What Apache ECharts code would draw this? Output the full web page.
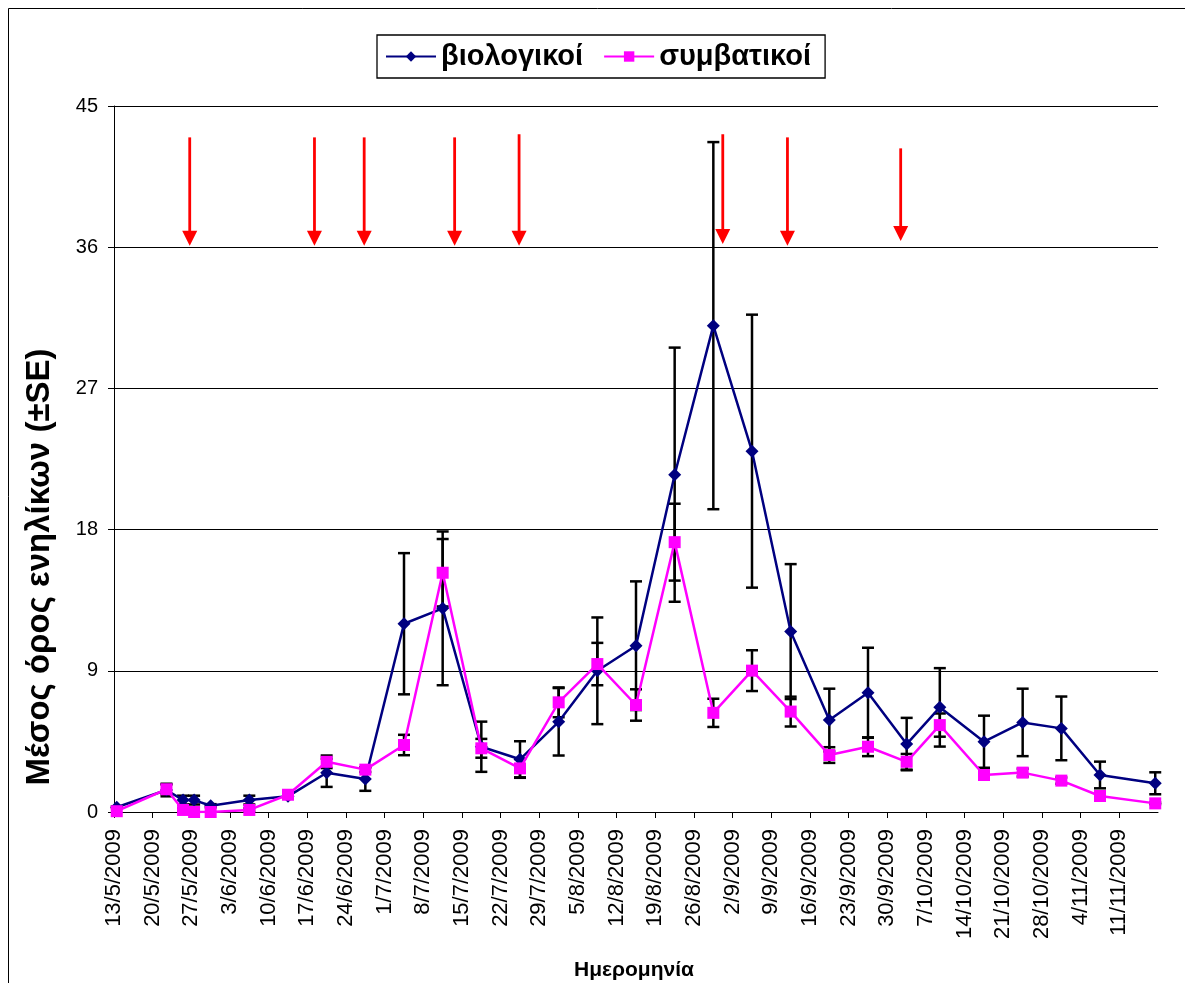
<!DOCTYPE html>
<html>
<head>
<meta charset="utf-8">
<script src="https://cdn.jsdelivr.net/npm/echarts@6/dist/echarts.min.js"></script>
<style>
html,body{margin:0;padding:0;background:#fff;}
#chart{width:1185px;height:983px;}
</style>
</head>
<body>
<div id="chart"></div>
<script>
// ---- data ----
const axisStart = '2009-05-13';
const axisEnd = '2009-11-18';
const sampleDates = ['2009-05-13','2009-05-22','2009-05-25','2009-05-27','2009-05-30','2009-06-06','2009-06-13','2009-06-20','2009-06-27','2009-07-04','2009-07-11','2009-07-18','2009-07-25','2009-08-01','2009-08-08','2009-08-15','2009-08-22','2009-08-29','2009-09-05','2009-09-12','2009-09-19','2009-09-26','2009-10-03','2009-10-09','2009-10-17','2009-10-24','2009-10-31','2009-11-07','2009-11-17'];
const bioMean = [0.3,1.4,0.76,0.76,0.4,0.76,1.0,2.5,2.1,12.0,12.98,4.16,3.36,5.75,9.0,10.6,21.5,31.0,23.0,11.5,5.86,7.6,4.33,6.67,4.48,5.71,5.33,2.36,1.83];
const bioSE = [0.05,0.4,0.28,0.28,0.1,0.28,0.1,0.9,0.75,4.5,4.9,1.6,1.15,2.15,3.4,4.1,8.1,11.7,8.7,4.3,2.0,2.87,1.67,2.5,1.66,2.15,2.03,0.85,0.7];
const convMean = [0.05,1.45,0.13,0,0,0.13,1.1,3.2,2.7,4.27,15.25,4.06,2.78,6.99,9.43,6.82,17.2,6.32,9.01,6.4,3.63,4.16,3.2,5.54,2.36,2.51,2.0,1.02,0.55];
const convSE = [0,0.3,0.1,0,0,0.1,0.1,0.4,0.15,0.65,2.15,0.6,0.6,0.95,1.35,1.0,2.45,0.9,1.3,0.95,0.5,0.6,0.5,0.74,0.3,0.25,0.2,0.1,0.05];
// application arrows (date-time, top value, tip value)
const arrowTimes = ['2009-05-26T17:00','2009-06-18T07:00','2009-06-27T07:00','2009-07-13T16:00','2009-07-25T08:00','2009-08-31T05:00','2009-09-11T22:00','2009-10-02T10:00'];
const arrowTop = [43.0,43.0,43.0,43.0,43.2,43.2,43.0,42.3];
const arrowTip = [36.1,36.1,36.1,36.1,36.1,36.2,36.1,36.4];
const seriesNames = ['βιολογικοί','συμβατικοί'];
const yTicks = {min:0, max:45, interval:9};
const xTitle = 'Ημερομηνία';
const yTitle = 'Μέσος όρος ενηλίκων (±SE)';

// ---- helpers ----
const DAY = 86400000;
function toUTC(s){
  const [d,t] = s.split('T');
  const [Y,M,D] = d.split('-').map(Number);
  let h=0, m=0;
  if (t) { [h,m] = t.split(':').map(Number); }
  return Date.UTC(Y, M-1, D, h, m);
}
const t0 = toUTC(axisStart);
const dayOf = s => (toUTC(s) - t0) / DAY;
const xMax = dayOf(axisEnd);
// Excel date axis: points sit in the middle of their day
const xs = sampleDates.map(s => dayOf(s) + 0.5);
function fmtDay(v){
  const d = new Date(t0 + v*DAY);
  return d.getUTCDate() + '/' + (d.getUTCMonth()+1) + '/' + d.getUTCFullYear();
}

const bioData = xs.map((x,i)=>[x, bioMean[i]]);
const convData = xs.map((x,i)=>[x, convMean[i]]);
const bioErr = xs.map((x,i)=>[x, bioMean[i]-bioSE[i], bioMean[i]+bioSE[i]]);
const convErr = xs.map((x,i)=>[x, convMean[i]-convSE[i], convMean[i]+convSE[i]]);
const arrowData = arrowTimes.map((s,i)=>[dayOf(s), arrowTop[i], arrowTip[i]]);

const FONT = 'Liberation Sans, Arial, Helvetica, sans-serif';

function errRender(params, api){
  const x = api.value(0), lo = api.value(1), hi = api.value(2);
  if (hi - lo < 1e-9) return null;
  const pL = api.coord([x, lo]), pH = api.coord([x, hi]);
  const hw = 6;
  const st = {stroke:'#000', lineWidth:2.5};
  return {type:'group', children:[
    {type:'line', shape:{x1:pL[0], y1:pL[1], x2:pH[0], y2:pH[1]}, style:st},
    {type:'line', shape:{x1:pH[0]-hw, y1:pH[1], x2:pH[0]+hw, y2:pH[1]}, style:st},
    {type:'line', shape:{x1:pL[0]-hw, y1:pL[1], x2:pL[0]+hw, y2:pL[1]}, style:st}
  ]};
}
function arrowRender(params, api){
  const x = api.value(0);
  const pT = api.coord([x, api.value(1)]), pB = api.coord([x, api.value(2)]);
  const hh = 15, hw = 7.5;
  return {type:'group', children:[
    {type:'line', shape:{x1:pT[0], y1:pT[1], x2:pB[0], y2:pB[1]-hh+1}, style:{stroke:'#ff0000', lineWidth:2.8}},
    {type:'polygon', shape:{points:[[pB[0]-hw,pB[1]-hh],[pB[0]+hw,pB[1]-hh],[pB[0],pB[1]]]}, style:{fill:'#ff0000'}}
  ]};
}

const chart = echarts.init(document.getElementById('chart'), null, {renderer:'canvas'});
chart.setOption({
  backgroundColor:'#fff',
  animation:false,
  textStyle:{fontFamily:FONT},
  grid:{left:114, right:27, top:106, bottom:171, containLabel:false},
  legend:{
    data:seriesNames,
    left:377, top:35,
    padding:[7,14,7,8],
    borderColor:'#000', borderWidth:1.3,
    itemWidth:50, itemHeight:13, itemGap:20,
    textStyle:{fontFamily:FONT, fontWeight:'bold', fontSize:29, color:'#000'}
  },
  xAxis:{
    type:'value', min:0, max:xMax, interval:7,
    axisLine:{show:true, onZero:false, lineStyle:{color:'#000', width:1}},
    axisTick:{show:true, inside:false, length:6, lineStyle:{color:'#000'}},
    splitLine:{show:false},
    axisLabel:{
      rotate:90, margin:17, fontSize:22, color:'#000', fontFamily:FONT,
      showMaxLabel:false,
      formatter: v => (v >= xMax - 1e-6 ? '' : fmtDay(v))
    }
  },
  yAxis:{
    type:'value', min:yTicks.min, max:yTicks.max, interval:yTicks.interval,
    axisLine:{show:true, lineStyle:{color:'#000', width:1}},
    axisTick:{show:true, inside:false, length:6, lineStyle:{color:'#000'}},
    splitLine:{show:true, lineStyle:{color:'#000', width:1}},
    axisLabel:{margin:16, fontSize:20, color:'#000', fontFamily:FONT}
  },
  graphic:[
    {type:'polyline', shape:{points:[[8.5,990],[8.5,8.5],[1190,8.5]]}, style:{stroke:'#000', lineWidth:1, fill:null}},
    {type:'text', x:40, y:567, rotation:Math.PI/2,
      style:{text:yTitle, fontFamily:FONT, fontWeight:'bold', fontSize:33, fill:'#000', align:'center', verticalAlign:'middle'}},
    {type:'text', x:634, y:970,
      style:{text:xTitle, fontFamily:FONT, fontWeight:'bold', fontSize:21, fill:'#000', align:'center', verticalAlign:'middle'}}
  ],
  series:[
    {name:seriesNames[0]+'_err', type:'custom', renderItem:errRender, data:bioErr, z:1, encode:{x:0, y:[1,2]}, silent:true},
    {name:seriesNames[1]+'_err', type:'custom', renderItem:errRender, data:convErr, z:1, encode:{x:0, y:[1,2]}, silent:true},
    {name:seriesNames[0], type:'line', data:bioData, z:3,
      symbol:'diamond', symbolSize:13, showAllSymbol:true,
      lineStyle:{color:'#000080', width:2.5}, itemStyle:{color:'#000080'}},
    {name:seriesNames[1], type:'line', data:convData, z:4,
      symbol:'rect', symbolSize:12, showAllSymbol:true,
      lineStyle:{color:'#ff00ff', width:2.5}, itemStyle:{color:'#ff00ff'}},
    {name:'arrows', type:'custom', renderItem:arrowRender, data:arrowData, z:5, encode:{x:0, y:[1,2]}, silent:true}
  ]
});
</script>
</body>
</html>
